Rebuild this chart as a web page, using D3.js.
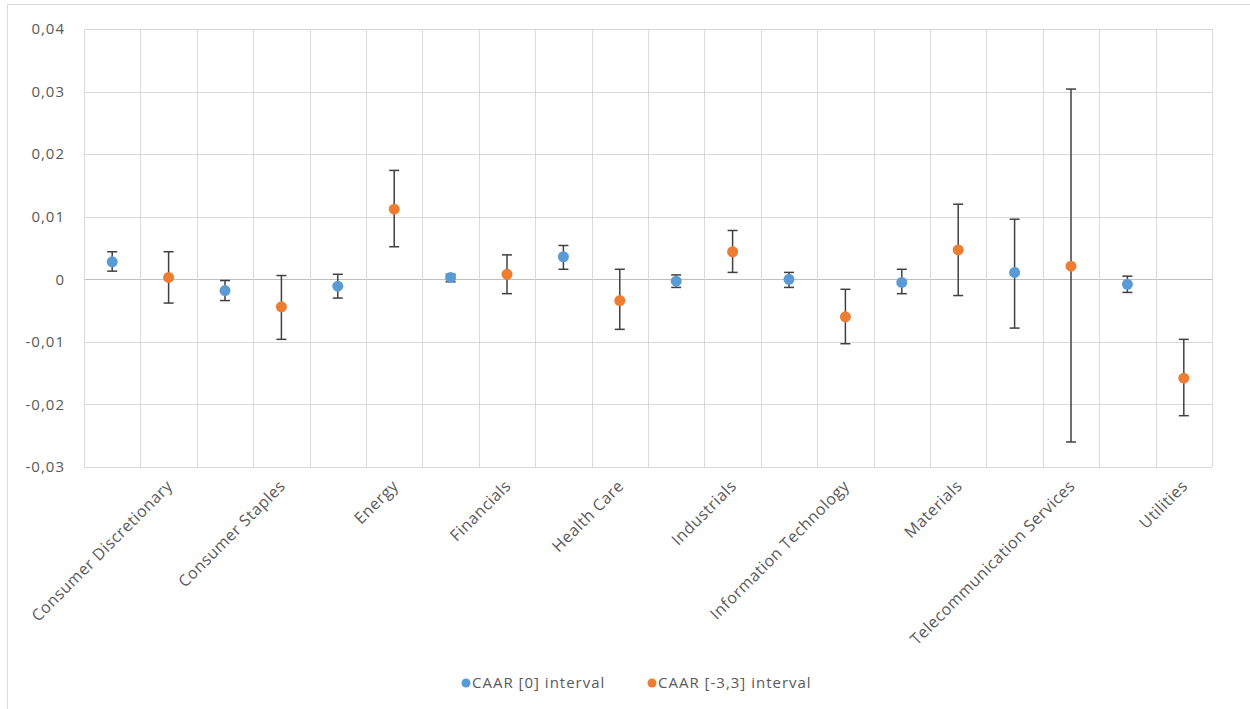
<!DOCTYPE html>
<html>
<head>
<meta charset="utf-8">
<script src="https://cdn.jsdelivr.net/npm/d3@7"></script>
<style>
  html, body { margin: 0; padding: 0; background: #fff; }
  svg { display: block; font-family: "Open Sans", "Liberation Sans", sans-serif; }
</style>
</head>
<body>
<svg id="chart" width="1250" height="709"></svg>
<script>
const categories = ["Consumer Discretionary", "Consumer Staples", "Energy", "Financials", "Health Care",
  "Industrials", "Information Technology", "Materials", "Telecommunication Services", "Utilities"];
const seriesNames = ["CAAR [0] interval", "CAAR [-3,3] interval"];
const seriesColors = ["#5B9BD5", "#ED7D31"];

const caar0 =      [0.0028, -0.0018, -0.0011, 0.0003, 0.0036, -0.0003, 0.0000, -0.0005, 0.0011, -0.0008];
const caar0High =  [0.0044, -0.0002, 0.0008, 0.0008, 0.0054, 0.0007, 0.0011, 0.0016, 0.0096, 0.0005];
const caar0Low =   [0.0013, -0.0034, -0.0030, -0.0004, 0.0016, -0.0013, -0.0013, -0.0023, -0.0078, -0.0021];

const caar33 =     [0.0003, -0.0044, 0.0112, 0.0008, -0.0034, 0.0044, -0.0060, 0.0047, 0.0021, -0.0158];
const caar33High = [0.0044, 0.0006, 0.0174, 0.0039, 0.0016, 0.0078, -0.0016, 0.0120, 0.0304, -0.0096];
const caar33Low =  [-0.0038, -0.0096, 0.0052, -0.0023, -0.0080, 0.0011, -0.0103, -0.0026, -0.0260, -0.0218];

const yTicks = [-0.03, -0.02, -0.01, 0, 0.01, 0.02, 0.03, 0.04];
const yTickLabels = ["-0,03", "-0,02", "-0,01", "0", "0,01", "0,02", "0,03", "0,04"];

const series = [
  {name: seriesNames[0], color: seriesColors[0], vals: caar0, hi: caar0High, lo: caar0Low},
  {name: seriesNames[1], color: seriesColors[1], vals: caar33, hi: caar33High, lo: caar33Low}
];

const svg = d3.select("#chart");
const plot = {left: 84, right: 1212, top: 29, bottom: 467};

// outer border
svg.append("rect").attr("x", 7.5).attr("y", 4.5).attr("width", 1260).attr("height", 720)
  .attr("fill", "#fff").attr("stroke", "#D9D9D9").attr("stroke-width", 1);

const x = d3.scaleBand().domain(categories).range([plot.left, plot.right]).padding(0);
const xs = d3.scaleBand().domain([0, 1]).range([0, x.bandwidth()]).padding(0);
const y = d3.scaleLinear().domain([-0.03, 0.04]).range([plot.bottom, plot.top]);

const grid = svg.append("g");
grid.selectAll("line.h").data(yTicks).join("line")
  .attr("x1", plot.left).attr("x2", plot.right)
  .attr("y1", d => Math.round(y(d)) + 0.5).attr("y2", d => Math.round(y(d)) + 0.5)
  .attr("stroke", d => d === 0 ? "#BFBFBF" : "#D9D9D9").attr("stroke-width", 1);
const vLines = [];
categories.forEach(c => { vLines.push(x(c)); vLines.push(x(c) + xs.bandwidth()); });
vLines.push(plot.right);
grid.selectAll("line.v").data(vLines).join("line")
  .attr("x1", d => Math.round(d) + 0.5).attr("x2", d => Math.round(d) + 0.5)
  .attr("y1", plot.top).attr("y2", plot.bottom)
  .attr("stroke", "#D9D9D9").attr("stroke-width", 1);

// y axis labels
const yAxis = d3.axisLeft(y).tickValues(yTicks).tickFormat((d, i) => yTickLabels[i]).tickSize(0).tickPadding(19);
const gy = svg.append("g").attr("transform", `translate(${plot.left},0)`).call(yAxis);
gy.select(".domain").remove();
gy.selectAll("text").attr("fill", "#595959").style("font-size", "15px").style("letter-spacing", "1px")
  .style("font-family", '"Open Sans", "Liberation Sans", sans-serif');

// x axis labels
const xLab = svg.append("g");
categories.forEach(c => {
  const px = x(c) + xs(1) + xs.bandwidth() / 2 + 1;
  const py = plot.bottom + 16;
  xLab.append("text")
    .attr("transform", `translate(${px},${py}) rotate(-45)`)
    .attr("text-anchor", "end").attr("dy", "0.35em")
    .attr("fill", "#595959").style("font-size", "16px").style("letter-spacing", "0.5px")
    .text(c);
});

// error bars and points
series.forEach((s, si) => {
  const g = svg.append("g");
  const cx = i => x(categories[i]) + xs(si) + xs.bandwidth() / 2;
  const idx = d3.range(categories.length);
  g.selectAll("line.bar").data(idx).join("line")
    .attr("x1", i => cx(i)).attr("x2", i => cx(i))
    .attr("y1", i => y(s.hi[i])).attr("y2", i => y(s.lo[i]))
    .attr("stroke", "#404040").attr("stroke-width", 1.5);
  g.selectAll("line.capH").data(idx).join("line")
    .attr("x1", i => cx(i) - 5).attr("x2", i => cx(i) + 5)
    .attr("y1", i => y(s.hi[i])).attr("y2", i => y(s.hi[i]))
    .attr("stroke", "#404040").attr("stroke-width", 1.5);
  g.selectAll("line.capL").data(idx).join("line")
    .attr("x1", i => cx(i) - 5).attr("x2", i => cx(i) + 5)
    .attr("y1", i => y(s.lo[i])).attr("y2", i => y(s.lo[i]))
    .attr("stroke", "#404040").attr("stroke-width", 1.5);
  g.selectAll("circle").data(idx).join("circle")
    .attr("cx", i => cx(i)).attr("cy", i => y(s.vals[i])).attr("r", 5.5)
    .attr("fill", s.color);
});

// legend
const legend = svg.append("g");
const legendX = [466, 652];
series.forEach((s, si) => {
  legend.append("circle").attr("cx", legendX[si]).attr("cy", 683).attr("r", 4.5).attr("fill", s.color);
  legend.append("text").attr("x", legendX[si] + 6).attr("y", 683).attr("dy", "0.35em")
    .attr("fill", "#595959").style("font-size", "15px").style("letter-spacing", "1px").text(s.name);
});
</script>
</body>
</html>
